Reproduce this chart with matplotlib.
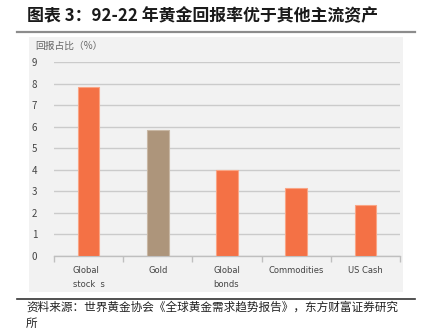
import matplotlib
matplotlib.use("Agg")
import matplotlib.pyplot as plt
from matplotlib.lines import Line2D
from matplotlib.patches import Rectangle

plt.rcParams['font.family'] = ['Noto Sans CJK SC', 'DejaVu Sans']

categories = ["Global\nstock  s", "Gold", "Global\nbonds", "Commodities", "US Cash"]
values = [7.85, 5.85, 4.0, 3.17, 2.37]
colors = ["#F47145", "#AD957B", "#F47145", "#F47145", "#F47145"]
edges = ["#F9A585", "#C8B7A4", "#F9A585", "#F9A585", "#F9A585"]
yticks = list(range(0, 10))

W, H = 425, 331
fig = plt.figure(figsize=(W / 100, H / 100), dpi=100)

def fx(x):
    return x / W

def fy(y):
    return 1 - y / H

# panel background
fig.patches.append(Rectangle((fx(29), fy(292)), fx(403) - fx(29), fy(37) - fy(292),
                             transform=fig.transFigure, facecolor="#F2F2F2",
                             edgecolor="none", zorder=-5))
# rule lines
fig.add_artist(Line2D([fx(17), fx(415)], [fy(32), fy(32)], color="#8C8C8C", lw=1.6))
fig.add_artist(Line2D([fx(17), fx(415)], [fy(299), fy(299)], color="#333333", lw=1.2))

fig.text(fx(27), fy(16), "图表 3：92-22 年黄金回报率优于其他主流资产", fontsize=12.2,
         fontweight="bold", color="#1a1a1a", va="center", ha="left")
fig.text(fx(35), fy(46), "回报占比（%）", fontsize=7, color="#666666", va="center",
         ha="left", style="italic")
fig.text(fx(26), fy(307), "资料来源：世界黄金协会《全球黄金需求趋势报告》，东方财富证券研究",
         fontsize=8.4, color="#222222", va="center", ha="left")
fig.text(fx(26), fy(323), "所", fontsize=8.4, color="#222222", va="center", ha="left")

ax = fig.add_axes([fx(54), fy(256), fx(400) - fx(54), fy(62) - fy(256)])
ax.set_zorder(2)
ax.set_facecolor("none")
x = list(range(len(categories)))
ax.bar(x, values, width=0.31, color=colors, edgecolor=edges, linewidth=0.8, zorder=3)
ax.set_xlim(-0.5, len(categories) - 0.5)
ax.set_ylim(0, 9)
ax.set_yticks(yticks)
ax.set_yticklabels([str(t) for t in yticks])
ax.yaxis.grid(True, color="#CBCBCB", lw=1.0, zorder=0)
ax.set_axisbelow(True)
for s in ["top", "right", "left"]:
    ax.spines[s].set_visible(False)
ax.spines["bottom"].set_color("#BFBFBF")
ax.spines["bottom"].set_linewidth(1.0)
ax.tick_params(axis="y", length=0, labelsize=7, labelcolor="#444444", pad=12)
ax.set_xticks(x)
ax.set_xticklabels(categories, fontsize=6, color="#444444", linespacing=1.7,
                   family=["DejaVu Sans"], va="top")
ax.tick_params(axis="x", which="major", length=0, pad=7)
ax.set_xticks([i - 0.5 for i in range(len(categories) + 1)], minor=True)
ax.tick_params(axis="x", which="minor", length=4, color="#BFBFBF", width=1.0)
for lab in ax.get_xticklabels():
    lab.set_multialignment("left")

fig.savefig("out.png", dpi=100)
